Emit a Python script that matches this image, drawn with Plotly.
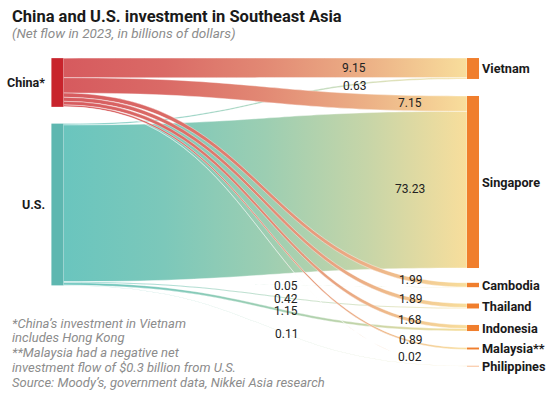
import json
import plotly.graph_objects as go

# ---------------- data ----------------
title_text = "China and U.S. investment in Southeast Asia"
subtitle_text = "(Net flow in 2023, in billions of dollars)"
sources = ["China*", "U.S."]
targets = ["Vietnam", "Singapore", "Cambodia", "Thailand", "Indonesia", "Malaysia**", "Philippines"]
china_values = [9.15, 7.15, 1.99, 1.89, 1.68, 0.89, 0.02]
us_values = [0.63, 73.23, 0.05, 0.42, 1.15, None, 0.11]
footnote_lines = [
    "*China\u2019s investment in Vietnam",
    "includes Hong Kong",
    "**Malaysia had a negative net",
    "investment flow of $0.3 billion from U.S.",
    "Source: Moody\u2019s, government data, Nikkei Asia research",
]

# ---------------- layout / style ----------------
W, H = 559, 393
dom_left, dom_right = 57, 473          # px, node centres
dom_top, dom_bottom = 50, 380.5        # px
node_pad = 20
node_thick = 12
src_node_y = [82.5, 204.5]             # px centres
tgt_node_y = [68.5, 182, 285, 306, 328, 348.5, 366]

china_node = (200, 36, 44)
us_node = (94, 183, 176)
tgt_node = "rgb(240,126,45)"
china_link = (214, 90, 94)
us_link = (106, 197, 190)
end_link = (248, 222, 156)


def rgb(c):
    return "rgb(%d,%d,%d)" % tuple(int(round(v)) for v in c)


def grad_stops(c0, c1):
    stops = []
    for t in [0, 0.25, 0.5, 0.75, 1.0]:
        f = t ** 1.5
        stops.append([str(t), rgb([a + (b - a) * f for a, b in zip(c0, c1)])])
    return stops


# value-label positions (px) in the order of china_values / us_values
china_lab_pos = [(354, 68), (410, 103), (410, 280), (410, 299), (410, 320), (410, 340), (410, 357)]
us_lab_pos = [(354, 86), (410, 189), (286, 286), (286, 299), (286, 311), None, (286, 334)]

DH = dom_bottom - dom_top

labels_all = sources + targets
node_x = [0.001, 0.001] + [1.0] * len(targets)
node_y = [(y - dom_top) / DH for y in src_node_y + tgt_node_y]
node_colors = [rgb(china_node), rgb(us_node)] + [tgt_node] * len(targets)

# U.S. links first so the thin China links are drawn on top
src_idx, tgt_idx, vals, lcols = [], [], [], []
for s, series, col in [(1, us_values, us_link), (0, china_values, china_link)]:
    for t, v in enumerate(series):
        if v is None:
            continue
        src_idx.append(s)
        tgt_idx.append(len(sources) + t)
        vals.append(v)
        lcols.append(rgb(col))

fig = go.Figure(go.Sankey(
    arrangement="fixed",
    domain=dict(x=[dom_left / W, dom_right / W], y=[1 - dom_bottom / H, 1 - dom_top / H]),
    node=dict(
        label=[""] * len(labels_all),
        x=node_x, y=node_y,
        pad=node_pad, thickness=node_thick,
        color=node_colors,
        line=dict(width=0),
    ),
    link=dict(source=src_idx, target=tgt_idx, value=vals, color=lcols,
              line=dict(color="rgba(255,255,255,0.8)", width=0.5)),
    hoverinfo="none",
))

ann = []
# title + subtitle
ann.append(dict(text="<b>" + title_text + "</b>", x=10 / W, y=1 - 16 / H, xanchor="left", yanchor="middle",
                font=dict(family="Roboto", size=16.5, color="#1a1a1a")))
ann.append(dict(text="<i>" + subtitle_text + "</i>", x=10 / W, y=1 - 33 / H, xanchor="left", yanchor="middle",
                font=dict(family="Roboto", size=13.5, color="#8c8c8c")))
# node labels
for name, y in zip(sources, src_node_y):
    ann.append(dict(text="<b>" + name + "</b>", x=(dom_left - node_thick / 2 - 4) / W, y=1 - y / H,
                    xanchor="right", yanchor="middle",
                    font=dict(family="Roboto", size=12.5, color="#1a1a1a")))
for name, y in zip(targets, tgt_node_y):
    ann.append(dict(text="<b>" + name + "</b>", x=(dom_right + node_thick / 2 + 1) / W, y=1 - y / H,
                    xanchor="left", yanchor="middle",
                    font=dict(family="Roboto", size=12.7, color="#1a1a1a")))
# value labels
for series, poss in [(china_values, china_lab_pos), (us_values, us_lab_pos)]:
    for v, p in zip(series, poss):
        if v is None or p is None:
            continue
        ann.append(dict(text=f"{v:.2f}", x=p[0] / W, y=1 - p[1] / H, xanchor="center", yanchor="middle",
                        font=dict(family="Roboto", size=12, color="#222222")))
# footnote
for i, line in enumerate(footnote_lines):
    ann.append(dict(text="<i>" + line + "</i>", x=10 / W, y=1 - (323 + i * 14.8) / H,
                    xanchor="left", yanchor="middle",
                    font=dict(family="Roboto", size=13, color="#8c8c8c")))

for a in ann:
    a.update(xref="paper", yref="paper", showarrow=False)

fig.update_layout(
    width=W, height=H,
    margin=dict(l=0, r=0, t=0, b=0),
    paper_bgcolor="white",
    annotations=ann,
    font=dict(family="Roboto"),
)

grads = [
    ["sk-grad-0", grad_stops(china_link, end_link)],
    ["sk-grad-1", grad_stops(us_link, end_link)],
]

post = """
document.body.style.margin = '0';
document.body.style.padding = '0';
var gd = document.getElementById('{plot_id}');
var links = gd.querySelectorAll('path.sankey-link');
if (links.length) {
  var ns = 'http://www.w3.org/2000/svg';
  var svg = links[0].ownerSVGElement;
  var defs = document.createElementNS(ns, 'defs');
  svg.insertBefore(defs, svg.firstChild);
  var grads = GRADS;
  grads.forEach(function(g){
    var lg = document.createElementNS(ns, 'linearGradient');
    lg.setAttribute('id', g[0]);
    lg.setAttribute('x1', '0'); lg.setAttribute('y1', '0');
    lg.setAttribute('x2', '1'); lg.setAttribute('y2', '0');
    g[1].forEach(function(s){
      var st = document.createElementNS(ns, 'stop');
      st.setAttribute('offset', s[0]);
      st.setAttribute('stop-color', s[1]);
      lg.appendChild(st);
    });
    defs.appendChild(lg);
  });
  links.forEach(function(p){
    var d = p.__data__;
    var idx = null;
    if (d && d.link && d.link.source && d.link.source.pointNumber !== undefined) {
      idx = d.link.source.pointNumber;
    }
    if (idx === null) { return; }
    p.style.fill = 'url(#sk-grad-' + idx + ')';
    p.style.fillOpacity = 1;
  });
}
""".replace("GRADS", json.dumps(grads))

fig.write_html("out.html", post_script=post, config={"displayModeBar": False})
